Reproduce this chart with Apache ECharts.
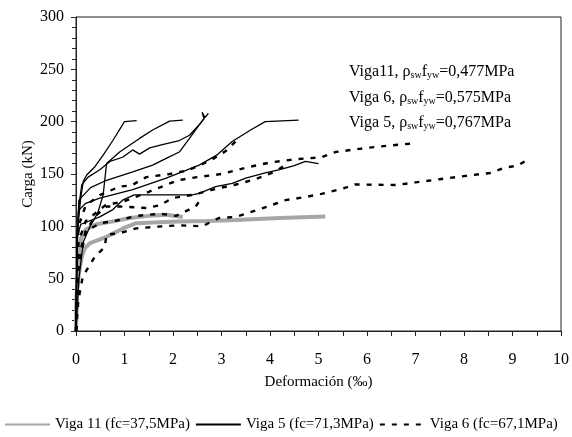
<!DOCTYPE html>
<html>
<head>
<meta charset="utf-8">
<script src="https://cdn.jsdelivr.net/npm/echarts@6/dist/echarts.min.js"></script>
<style>
  html, body { margin: 0; padding: 0; background: #fff; }
  #chart { width: 572px; height: 437px; }
</style>
</head>
<body>
<div id="chart"></div>
<script>
// series names (legend)
const nameV11 = 'Viga 11 (fc=37,5MPa)'
const nameV5 = 'Viga 5 (fc=71,3MPa)'
const nameV6 = 'Viga 6 (fc=67,1MPa)'

// Viga 11 - gray curves [deformacion, carga]
const v11a = [[0,0],[0.01,33],[0.06,55],[0.12,71],[0.18,79],[0.29,84],[0.63,90],[0.97,98],[1.24,103],[1.7,104],[2.13,104.5],[2.7,105],[3.29,106],[4.2,108],[5.14,109.5]]
const v11b = [[0,0],[0.02,40],[0.05,70],[0.1,88],[0.2,97],[0.42,102],[0.8,105],[1.1,108],[1.5,110],[1.86,111],[2.2,109]]

// Viga 5 - solid black curves
const v5a = [[0,0],[0.01,50],[0.04,100],[0.1,128],[0.15,143],[0.22,149],[0.39,157],[0.56,168],[0.76,182],[1.0,200],[1.25,201]]
const v5b = [[0,0],[0.06,50],[0.15,85],[0.29,100],[0.45,113],[0.56,130],[0.63,160],[0.9,171],[1.31,184],[1.58,192],[1.93,200.5],[2.2,201.5]]
const v5c = [[0,0],[0.02,80],[0.06,120],[0.12,140],[0.25,147],[0.49,154],[0.7,162],[0.96,166],[1.17,173],[1.31,169],[1.52,175],[1.78,178],[2.13,182],[2.34,187],[2.54,197],[2.64,203],[2.6,209],[2.66,204],[2.73,208]]
const v5d = [[0,0],[0.02,85],[0.06,125],[0.3,137],[0.63,144],[1.17,152],[1.58,158.5],[1.86,165],[2.13,171],[2.34,184],[2.54,197],[2.64,203]]
const v5e = [[0,0],[0.02,80],[0.05,115],[0.2,122],[0.49,127],[1.17,135],[1.86,146],[2.54,158.5],[2.9,168],[3.22,181],[3.6,192],[3.9,200],[4.59,201.5]]
const v5f = [[0,0],[0.02,90],[0.1,102],[0.49,109],[0.76,116],[0.96,125],[1.2,130],[2.4,130],[2.54,131.5],[2.88,138],[3.22,141],[3.5,146],[3.9,151],[4.18,154],[4.5,158],[4.73,162],[5.0,160]]

// Viga 6 - dashed black curves
const v6a = [[0,0],[0.05,30],[0.14,52],[0.39,71],[0.59,80],[0.63,92],[0.9,93.5],[1.24,98],[1.65,99.6],[2.13,101],[2.6,100],[2.95,108],[3.29,109],[3.83,117],[4.32,125],[4.73,128],[5.06,131],[5.5,136],[5.75,140],[6.6,139.5],[7.0,142],[7.5,145],[8.0,148],[8.54,151],[8.83,156],[9.1,158],[9.36,165]]
const v6b = [[0,0],[0.05,85],[0.2,105],[0.6,120],[1.0,124],[1.5,133],[2.1,144],[2.5,147],[3.0,150],[3.5,156],[4.0,161],[4.5,164],[5.06,166],[5.35,171],[6.0,175],[6.64,178],[6.9,179]]
const v6c = [[0,0],[0.05,100],[0.2,120],[0.5,130],[0.9,138],[1.14,139],[1.45,147],[1.93,150],[2.27,153],[2.54,158],[2.81,164],[3.09,172],[3.29,181]]
const v6d = [[0,0],[0.05,60],[0.2,95],[0.4,110],[0.63,119],[0.9,119],[1.45,117.5],[1.72,120],[1.99,127],[2.4,130],[2.9,136],[3.3,140],[3.7,145],[4.1,152],[4.3,158]]
const v6e = [[0,0],[0.05,70],[0.2,95],[0.5,103],[0.9,106],[1.24,110],[1.75,112],[2.06,110],[2.47,119],[2.6,128]]

// annotation lines: [label, value]
const notes = [['Viga11,', '0,477MPa'], ['Viga 6,', '0,575MPa'], ['Viga 5,', '0,767MPa']]

const FONT = '"Liberation Serif", "DejaVu Serif", serif'

const grayLine = (data) => ({
  type: 'line', name: nameV11, data, symbol: 'none', z: 2,
  lineStyle: { color: '#a6a6a6', width: 4 }, itemStyle: { color: '#a6a6a6' }
})
const solidLine = (data) => ({
  type: 'line', name: nameV5, data, symbol: 'none', z: 3,
  lineStyle: { color: '#000', width: 1.3 }, itemStyle: { color: '#000' }
})
const dashLine = (data) => ({
  type: 'line', name: nameV6, data, symbol: 'none', z: 4,
  lineStyle: { color: '#000', width: 2.4, type: [5, 7] }, itemStyle: { color: '#000' }
})

const chart = echarts.init(document.getElementById('chart'))

chart.setOption({
  animation: false,
  backgroundColor: '#fff',
  textStyle: { fontFamily: FONT },
  grid: { left: 76, right: 8, top: 17, bottom: 106, show: true, borderColor: '#222', borderWidth: 1 },
  legend: {
    data: [nameV11, nameV5, nameV6],
    left: -1, top: 412,
    itemWidth: 45, itemHeight: 10, itemGap: 5,
    itemStyle: { opacity: 0 },
    textStyle: { fontFamily: FONT, fontSize: 15, color: '#000' }
  },
  xAxis: {
    type: 'value', min: 0, max: 10, interval: 1,
    name: 'Deformación (‰)', nameLocation: 'middle', nameGap: 44, nameMoveOverlap: false,
    nameTextStyle: { fontFamily: FONT, fontSize: 15, color: '#000' },
    axisLine: { lineStyle: { color: '#222' } },
    axisTick: { inside: false, length: 5, lineStyle: { color: '#222' } },
    minorTick: { show: true, splitNumber: 2, length: 5, lineStyle: { color: '#222' } },
    axisLabel: { fontFamily: FONT, fontSize: 16, color: '#000', margin: 21 },
    splitLine: { show: false }
  },
  yAxis: {
    type: 'value', min: 0, max: 300, interval: 50,
    name: 'Carga (kN)', nameLocation: 'middle', nameGap: 40, nameMoveOverlap: false,
    nameTextStyle: { fontFamily: FONT, fontSize: 15, color: '#000' },
    axisLine: { show: true, lineStyle: { color: '#222' } },
    axisTick: { show: true, inside: false, length: 5, lineStyle: { color: '#222' } },
    minorTick: { show: true, splitNumber: 5, length: 4, lineStyle: { color: '#222' } },
    axisLabel: { fontFamily: FONT, fontSize: 16, color: '#000', margin: 12 },
    splitLine: { show: false }
  },
  graphic: notes.map((n, i) => ({
    type: 'text', left: 349, top: 64 + i * 25.5, z: 10,
    style: {
      text: n[0] + ' {m|ρ}{s|sw}{m|f}{s|yw}=' + n[1],
      fontFamily: FONT, fontSize: 16, fill: '#000',
      rich: {
        m: { fontFamily: FONT, fontSize: 16 },
        s: { fontFamily: FONT, fontSize: 10, padding: [7, 0, 0, 0] }
      }
    }
  })),
  series: [
    grayLine(v11a), grayLine(v11b),
    solidLine(v5a), solidLine(v5b), solidLine(v5c), solidLine(v5d), solidLine(v5e), solidLine(v5f),
    dashLine(v6a), dashLine(v6b), dashLine(v6c), dashLine(v6d), dashLine(v6e)
  ]
})
</script>
</body>
</html>
